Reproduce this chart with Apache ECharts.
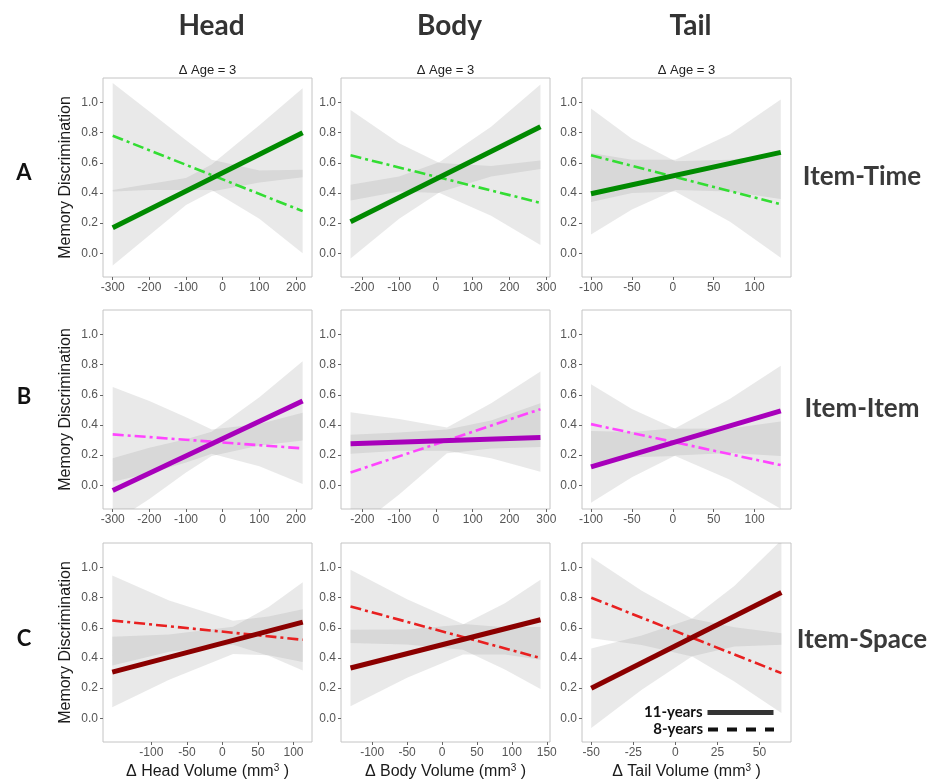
<!DOCTYPE html>
<html>
<head>
<meta charset="utf-8">
<script src="https://cdn.jsdelivr.net/npm/echarts@6/dist/echarts.min.js"></script>
<style>
html,body{margin:0;padding:0;background:#fff;}
#chart{width:933px;height:782px;}
</style>
</head>
<body>
<div id="chart"></div>
<script>
// ---------- categories / labels ----------
const colNames = ['Head', 'Body', 'Tail'];
const rowLetters = ['A', 'B', 'C'];
const rowNames = ['Item-Time', 'Item-Item', 'Item-Space'];
const facetLabel = '\u0394 Age = 3';
const yTitle = 'Memory Discrimination';
const xTitles = ['\u0394 Head Volume (mm{sup|3} )', '\u0394 Body Volume (mm{sup|3} )', '\u0394 Tail Volume (mm{sup|3} )'];
const legendNames = ['11-years', '8-years'];

// ---------- tick labels ----------
const yTicks = [0, 0.2, 0.4, 0.6, 0.8, 1.0];
const headTicksAB = [-300, -200, -100, 0, 100, 200];
const bodyTicksAB = [-200, -100, 0, 100, 200, 300];
const tailTicksAB = [-100, -50, 0, 50, 100];
const headTicksC = [-100, -50, 0, 50, 100];
const bodyTicksC = [-100, -50, 0, 50, 100, 150];
const tailTicksC = [-50, -25, 0, 25, 50];

// ---------- Row A: Item-Time ----------
const timeHeadX = [-300, 218];
const timeHead11 = [0.17, 0.80];
const timeHead8 = [0.78, 0.28];
const timeHeadBandX = [-300, -200, -100, -30, 100, 218];
const timeHead11Lo = [-0.08, 0.12, 0.32, 0.41, 0.47, 0.505];
const timeHead11Hi = [0.42, 0.46, 0.50, 0.59, 0.85, 1.095];
const timeHead8Lo = [0.41, 0.42, 0.42, 0.42, 0.23, 0.00];
const timeHead8Hi = [1.13, 0.94, 0.75, 0.62, 0.55, 0.555];

const timeBodyX = [-232, 284];
const timeBody11 = [0.21, 0.84];
const timeBody8 = [0.65, 0.335];
const timeBodyBandX = [-232, -100, 10, 150, 284];
const timeBody11Lo = [-0.035, 0.23, 0.405, 0.51, 0.56];
const timeBody11Hi = [0.455, 0.51, 0.605, 0.84, 1.12];
const timeBody8Lo = [0.35, 0.41, 0.40, 0.25, 0.055];
const timeBody8Hi = [0.95, 0.73, 0.60, 0.58, 0.615];

const timeTailX = [-100, 132];
const timeTail11 = [0.395, 0.67];
const timeTail8 = [0.65, 0.325];
const timeTailBandX = [-100, -50, 3, 70, 132];
const timeTail11Lo = [0.125, 0.29, 0.42, 0.41, 0.36];
const timeTail11Hi = [0.665, 0.62, 0.62, 0.79, 1.02];
const timeTail8Lo = [0.34, 0.40, 0.41, 0.21, -0.03];
const timeTail8Hi = [0.96, 0.76, 0.61, 0.62, 0.66];

// ---------- Row B: Item-Item ----------
const itemHeadX = [-300, 218];
const itemHead11 = [-0.035, 0.56];
const itemHead8 = [0.338, 0.245];
const itemHeadBandX = [-300, -200, -100, -30, 100, 218];
const itemHead11Lo = [-0.25, -0.09, 0.085, 0.195, 0.265, 0.297];
const itemHead11Hi = [0.18, 0.25, 0.305, 0.355, 0.585, 0.823];
const itemHead8Lo = [0.023, 0.08, 0.152, 0.21, 0.126, 0.009];
const itemHead8Hi = [0.653, 0.56, 0.452, 0.37, 0.406, 0.481];

const itemBodyX = [-232, 284];
const itemBody11 = [0.275, 0.318];
const itemBody8 = [0.085, 0.505];
const itemBodyBandX = [-232, -100, 30, 150, 284];
const itemBody11Lo = [0.21, 0.23, 0.23, 0.18, 0.09];
const itemBody11Hi = [0.335, 0.35, 0.37, 0.43, 0.545];
const itemBody8Lo = [-0.315, -0.06, 0.213, 0.245, 0.255];
const itemBody8Hi = [0.485, 0.44, 0.383, 0.545, 0.755];

const itemTailX = [-100, 132];
const itemTail11 = [0.123, 0.494];
const itemTail8 = [0.406, 0.134];
const itemTailBandX = [-100, -50, 3, 70, 132];
const itemTail11Lo = [-0.115, 0.053, 0.198, 0.215, 0.194];
const itemTail11Hi = [0.361, 0.353, 0.378, 0.575, 0.794];
const itemTail8Lo = [0.141, 0.187, 0.195, 0.037, -0.156];
const itemTail8Hi = [0.671, 0.507, 0.375, 0.377, 0.424];

// ---------- Row C: Item-Space ----------
const spaceHeadX = [-155, 113];
const spaceHead11 = [0.307, 0.638];
const spaceHead8 = [0.649, 0.521];
const spaceHeadBandX = [-155, -75, 15, 65, 113];
const spaceHead11Lo = [0.073, 0.256, 0.427, 0.419, 0.373];
const spaceHead11Hi = [0.541, 0.556, 0.607, 0.739, 0.903];
const spaceHead8Lo = [0.351, 0.441, 0.488, 0.415, 0.318];
const spaceHead8Hi = [0.947, 0.781, 0.648, 0.675, 0.724];

const spaceBodyX = [-131, 141];
const spaceBody11 = [0.334, 0.654];
const spaceBody8 = [0.742, 0.40];
const spaceBodyBandX = [-131, -50, 30, 90, 141];
const spaceBody11Lo = [0.08, 0.269, 0.423, 0.424, 0.389];
const spaceBody11Hi = [0.588, 0.589, 0.623, 0.764, 0.919];
const spaceBody8Lo = [0.499, 0.49, 0.455, 0.324, 0.195];
const spaceBody8Hi = [0.985, 0.79, 0.625, 0.604, 0.605];

const spaceTailX = [-50, 63];
const spaceTail11 = [0.20, 0.835];
const spaceTail8 = [0.80, 0.30];
const spaceTailBandX = [-50, -20, 10, 35, 63];
const spaceTail11Lo = [-0.064, 0.189, 0.412, 0.477, 0.488];
const spaceTail11Hi = [0.464, 0.549, 0.662, 0.877, 1.182];
const spaceTail8Lo = [0.532, 0.487, 0.41, 0.244, 0.035];
const spaceTail8Hi = [1.068, 0.847, 0.66, 0.604, 0.565];

// ---------- styling / layout ----------
const rowColors = [['#008a00', '#33dd33'], ['#a800bb', '#ff44ff'], ['#8b0000', '#e82020']];
const colLeft = [103, 341, 582];
const rowTop = [78, 310, 543];
const panelW = 209, panelH = 199;
const yRange = [-0.157, 1.163];
const bandFill = 'rgba(153,153,153,0.22)';

const panels = [
  [
    {lx: timeHeadX, s: timeHead11, d: timeHead8, bx: timeHeadBandX, sLo: timeHead11Lo, sHi: timeHead11Hi, dLo: timeHead8Lo, dHi: timeHead8Hi, ticks: headTicksAB, range: [-326.5, 243.6]},
    {lx: timeBodyX, s: timeBody11, d: timeBody8, bx: timeBodyBandX, sLo: timeBody11Lo, sHi: timeBody11Hi, dLo: timeBody8Lo, dHi: timeBody8Hi, ticks: bodyTicksAB, range: [-258, 310]},
    {lx: timeTailX, s: timeTail11, d: timeTail8, bx: timeTailBandX, sLo: timeTail11Lo, sHi: timeTail11Hi, dLo: timeTail8Lo, dHi: timeTail8Hi, ticks: tailTicksAB, range: [-111, 144.5]}
  ],
  [
    {lx: itemHeadX, s: itemHead11, d: itemHead8, bx: itemHeadBandX, sLo: itemHead11Lo, sHi: itemHead11Hi, dLo: itemHead8Lo, dHi: itemHead8Hi, ticks: headTicksAB, range: [-326.5, 243.6]},
    {lx: itemBodyX, s: itemBody11, d: itemBody8, bx: itemBodyBandX, sLo: itemBody11Lo, sHi: itemBody11Hi, dLo: itemBody8Lo, dHi: itemBody8Hi, ticks: bodyTicksAB, range: [-258, 310]},
    {lx: itemTailX, s: itemTail11, d: itemTail8, bx: itemTailBandX, sLo: itemTail11Lo, sHi: itemTail11Hi, dLo: itemTail8Lo, dHi: itemTail8Hi, ticks: tailTicksAB, range: [-111, 144.5]}
  ],
  [
    {lx: spaceHeadX, s: spaceHead11, d: spaceHead8, bx: spaceHeadBandX, sLo: spaceHead11Lo, sHi: spaceHead11Hi, dLo: spaceHead8Lo, dHi: spaceHead8Hi, ticks: headTicksC, range: [-168, 126]},
    {lx: spaceBodyX, s: spaceBody11, d: spaceBody8, bx: spaceBodyBandX, sLo: spaceBody11Lo, sHi: spaceBody11Hi, dLo: spaceBody8Lo, dHi: spaceBody8Hi, ticks: bodyTicksC, range: [-144.6, 154.6]},
    {lx: spaceTailX, s: spaceTail11, d: spaceTail8, bx: spaceTailBandX, sLo: spaceTail11Lo, sHi: spaceTail11Hi, dLo: spaceTail8Lo, dHi: spaceTail8Hi, ticks: tailTicksC, range: [-55.5, 68.7]}
  ]
];

function bandRenderer(bx, lo, hi) {
  return function (params, api) {
    if (params.dataIndexInside !== 0) return null;
    const pts = [];
    for (let j = 0; j < bx.length; j++) pts.push(api.coord([bx[j], hi[j]]));
    for (let j = bx.length - 1; j >= 0; j--) pts.push(api.coord([bx[j], lo[j]]));
    return {type: 'polygon', shape: {points: pts}, style: {fill: bandFill}};
  };
}

const grids = [], xAxes = [], yAxes = [], series = [];
const labelColor = '#555';
for (let r = 0; r < 3; r++) {
  for (let c = 0; c < 3; c++) {
    const p = panels[r][c];
    const gi = r * 3 + c;
    grids.push({left: colLeft[c], top: rowTop[r], width: panelW, height: panelH, show: true,
      borderColor: '#c4c4c4', borderWidth: 1, backgroundColor: '#fff', containLabel: false, outerBoundsMode: 'none'});
    const xa = {type: 'value', gridIndex: gi, position: 'bottom', min: p.range[0], max: p.range[1],
      splitLine: {show: false}, axisLine: {show: false, onZero: false},
      axisTick: {show: true, length: 3, lineStyle: {color: '#666'}, customValues: p.ticks},
      axisLabel: {customValues: p.ticks, color: labelColor, fontSize: 12, margin: 5, formatter: v => String(v)}};
    if (r === 2) {
      xa.name = xTitles[c];
      xa.nameLocation = 'middle';
      xa.nameGap = 21;
      xa.nameTextStyle = {fontSize: 16, color: '#1a1a1a', fontFamily: 'Liberation Sans',
        rich: {sup: {fontSize: 10, verticalAlign: 'top', padding: [0, 0, 8, 0], color: '#1a1a1a'}}};
    }
    xAxes.push(xa);
    const ya = {type: 'value', gridIndex: gi, position: 'left', min: yRange[0], max: yRange[1],
      splitLine: {show: false}, axisLine: {show: false, onZero: false},
      axisTick: {show: true, length: 3, lineStyle: {color: '#666'}, customValues: yTicks},
      axisLabel: {customValues: yTicks, color: labelColor, fontSize: 12, margin: 5, formatter: v => v.toFixed(1)}};
    if (c === 0) {
      ya.name = yTitle;
      ya.nameLocation = 'middle';
      ya.nameGap = 29;
      ya.nameTextStyle = {fontSize: 16, color: '#1a1a1a', fontFamily: 'Liberation Sans'};
    }
    yAxes.push(ya);

    const bandDataS = p.bx.map((x, j) => [x, p.sLo[j], p.sHi[j]]);
    const bandDataD = p.bx.map((x, j) => [x, p.dLo[j], p.dHi[j]]);
    series.push({type: 'custom', xAxisIndex: gi, yAxisIndex: gi, clip: true, z: 1, silent: true,
      encode: {x: 0, y: [1, 2]}, data: bandDataS, renderItem: bandRenderer(p.bx, p.sLo, p.sHi)});
    series.push({type: 'custom', xAxisIndex: gi, yAxisIndex: gi, clip: true, z: 1, silent: true,
      encode: {x: 0, y: [1, 2]}, data: bandDataD, renderItem: bandRenderer(p.bx, p.dLo, p.dHi)});
    series.push({type: 'line', xAxisIndex: gi, yAxisIndex: gi, symbol: 'none', z: 3, silent: true,
      data: p.lx.map((x, j) => [x, p.d[j]]),
      lineStyle: {color: rowColors[r][1], width: 2.6, type: [11, 4, 3, 4], cap: 'butt'}});
    series.push({type: 'line', xAxisIndex: gi, yAxisIndex: gi, symbol: 'none', z: 4, silent: true,
      data: p.lx.map((x, j) => [x, p.s[j]]),
      lineStyle: {color: rowColors[r][0], width: 5, cap: 'butt'}});
  }
}
// legend carrier series (no data)
series.push({type: 'line', name: legendNames[0], xAxisIndex: 8, yAxisIndex: 8, data: [], symbol: 'none',
  color: '#333', itemStyle: {opacity: 0}, lineStyle: {color: '#333', width: 5}});
series.push({type: 'line', name: legendNames[1], xAxisIndex: 8, yAxisIndex: 8, data: [], symbol: 'none',
  color: '#111', itemStyle: {opacity: 0}, lineStyle: {color: '#111', width: 4, type: [10, 9]}});

const graphics = [];
const colCenters = colLeft.map(l => l + panelW / 2);
colNames.forEach((n, c) => {
  graphics.push({type: 'text', x: colCenters[c] + 4, y: 26,
    style: {text: n, font: 'bold 28px Lato', fill: '#333', textAlign: 'center', textVerticalAlign: 'middle'}});
  graphics.push({type: 'text', x: colCenters[c], y: 70,
    style: {text: facetLabel, font: '13px "Liberation Sans"', fill: '#222', textAlign: 'center', textVerticalAlign: 'middle'}});
});
const letterY = [173, 397, 639];
const nameY = [177, 409, 640];
rowLetters.forEach((t, r) => {
  graphics.push({type: 'text', x: 24, y: letterY[r],
    style: {text: t, font: 'bold 22px Lato', fill: '#111', textAlign: 'center', textVerticalAlign: 'middle'}});
  graphics.push({type: 'text', x: 862, y: nameY[r],
    style: {text: rowNames[r], font: 'bold 26px Lato', fill: '#3a3a3a', textAlign: 'center', textVerticalAlign: 'middle'}});
});

const legendCommon = {orient: 'vertical', align: 'right', right: 157, padding: 0, itemWidth: 66, itemHeight: 14,
  selectedMode: false, itemStyle: {opacity: 0, color: 'rgba(0,0,0,0)', borderWidth: 0},
  textStyle: {fontFamily: 'Lato', fontWeight: 'bold', fontSize: 15, color: '#111'}};

const option = {
  animation: false,
  textStyle: {fontFamily: 'Liberation Sans'},
  grid: grids,
  xAxis: xAxes,
  yAxis: yAxes,
  series: series,
  graphic: graphics,
  legend: [
    Object.assign({}, legendCommon, {top: 705, data: [legendNames[0]], lineStyle: {width: 5, color: '#333', type: 'solid'}}),
    Object.assign({}, legendCommon, {top: 722, data: [legendNames[1]], lineStyle: {width: 4, color: '#111', type: [10, 9]}})
  ]
};

const chart = echarts.init(document.getElementById('chart'), null, {renderer: 'canvas'});
chart.setOption(option);
</script>
</body>
</html>
